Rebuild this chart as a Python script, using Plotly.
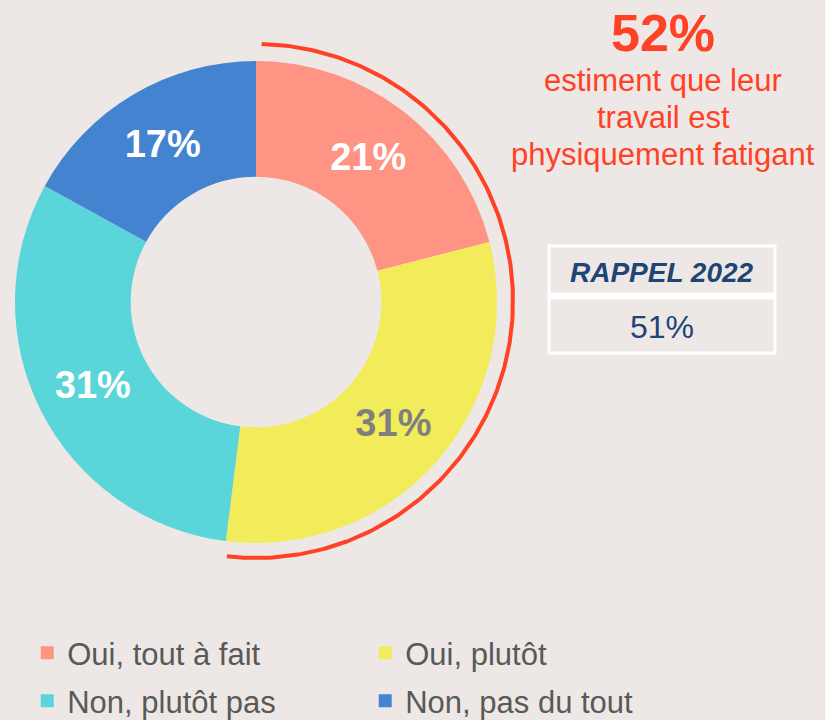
import math
import plotly.graph_objects as go

W, H = 825, 720
BG = "#EDE8E5"

categories = ["Oui, tout à fait", "Oui, plutôt", "Non, plutôt pas", "Non, pas du tout"]
values = [21, 31, 31, 17]
colors = ["#FF9384", "#F2EB5A", "#5AD5DA", "#4383D0"]
label_colors = ["#FFFFFF", "#7F7F7F", "#FFFFFF", "#FFFFFF"]
headline_value = 52
headline_text = ["estiment que leur", "travail est", "physiquement fatigant"]
recall_title = "RAPPEL 2022"
recall_value = 51

RED = "#FF4125"
NAVY = "#1F4575"

# donut geometry in pixels
cx, cy, R = 256, 302, 241
arc_cx, arc_cy, arc_r = 256, 301, 257

fig = go.Figure()

fig.add_trace(go.Pie(
    labels=categories, values=values, sort=False, direction="clockwise", rotation=0,
    hole=0.52,
    marker=dict(colors=colors, line=dict(width=0)),
    texttemplate="<b>%{value}%</b>", textposition="inside",
    insidetextorientation="horizontal",
    insidetextfont=dict(color=label_colors, size=38, family="Liberation Sans, Arial"),
    domain=dict(x=[(cx - R) / W, (cx + R) / W], y=[1 - (cy + R) / H, 1 - (cy - R) / H]),
    hoverinfo="label+percent",
    showlegend=False,
))

# legend entries (two rows, two columns)
for i, (cat, col) in enumerate(zip(categories, colors)):
    fig.add_trace(go.Scatter(
        x=[None], y=[None], mode="markers", name=cat,
        marker=dict(symbol="square", size=13, color=col),
        legend="legend" if i < 2 else "legend2", showlegend=True,
    ))

# red arc spanning the "Oui" share
frac = (values[0] + values[1]) / sum(values)
t0, t1 = 0.022, 2 * math.pi * frac - 0.012
n = 200
ts = [t0 + (t1 - t0) * i / (n - 1) for i in range(n)]
fig.add_trace(go.Scatter(
    x=[arc_cx + arc_r * math.sin(t) for t in ts],
    y=[arc_cy - arc_r * math.cos(t) for t in ts],
    mode="lines", line=dict(color=RED, width=4), hoverinfo="skip", showlegend=False,
))

annotations = [
    dict(x=663, y=33, text=f"<b>{headline_value}%</b>", font=dict(size=52, color=RED)),
]
for i, line in enumerate(headline_text):
    annotations.append(dict(x=663, y=80 + i * 37, text=line, font=dict(size=31, color=RED)))
annotations.append(dict(x=662, y=272, text=f"<b><i>{recall_title}</i></b>", font=dict(size=28, color=NAVY)))
annotations.append(dict(x=662, y=327, text=f"{recall_value}%", font=dict(size=32, color=NAVY)))
for a in annotations:
    a.update(xref="x", yref="y", showarrow=False, xanchor="center", yanchor="middle")
    a["font"]["family"] = "Liberation Sans, Arial"

shapes = [
    dict(type="rect", x0=549, x1=775, y0=246, y1=353, line=dict(color="white", width=3)),
    dict(type="line", x0=549, x1=775, y0=296, y1=296, line=dict(color="white", width=7)),
]
for s in shapes:
    s.update(xref="x", yref="y", layer="above")

leg_common = dict(
    orientation="h", x=0.033, xanchor="left", yanchor="middle",
    font=dict(size=31, color="#595959"), entrywidth=293, entrywidthmode="pixels",
    bgcolor="rgba(0,0,0,0)", traceorder="normal",
)

fig.update_layout(
    width=W, height=H, margin=dict(l=0, r=0, t=0, b=0, autoexpand=False),
    paper_bgcolor=BG, plot_bgcolor=BG,
    xaxis=dict(range=[0, W], visible=False, fixedrange=True),
    yaxis=dict(range=[H, 0], visible=False, fixedrange=True),
    annotations=annotations, shapes=shapes,
    font=dict(family="Liberation Sans, Arial"),
    legend=dict(leg_common, y=1 - 653 / H),
    legend2=dict(leg_common, y=1 - 701 / H),
)

fig.write_html(
    "out.html",
    config={"displayModeBar": False},
    post_script="document.body.style.margin='0';document.body.style.background='%s';" % BG,
)
